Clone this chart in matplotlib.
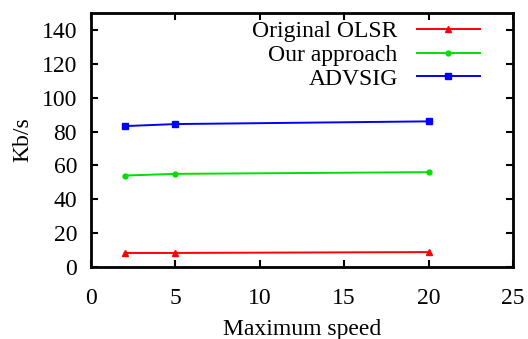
import matplotlib.pyplot as plt

# ------------------------------------------------------------------
# Data
# ------------------------------------------------------------------

speeds = [2, 5, 20]

olsr = [8.3, 8.3, 8.8]
ours = [54.0, 55.0, 56.0]
advsig = [83.2, 84.4, 86.0]

x_ticks = [0, 5, 10, 15, 20, 25]
y_ticks = [0, 20, 40, 60, 80, 100, 120, 140]

plt.rcParams["font.family"] = ["Liberation Serif", "DejaVu Serif"]

fig = plt.figure(figsize=(5.28, 3.39), dpi=100)
ax = fig.add_axes([0.1723, 0.2124, 0.7993, 0.7493])

ax.plot(speeds, olsr, color="#ff0000", marker="^", markersize=5,
        linewidth=1.4, label="Original OLSR")
ax.plot(speeds, ours, color="#00e000", marker="o", markersize=3.5,
        linewidth=1.4, label="Our approach")
ax.plot(speeds, advsig, color="#0000ff", marker="s", markersize=4,
        linewidth=1.4, label="ADVSIG")

ax.set_xlim(0, 25)
ax.set_ylim(0, 150)
ax.set_xticks(x_ticks)
ax.set_yticks(y_ticks)

ax.tick_params(direction="in", top=True, right=True, length=5, width=1.5,
               labelsize=17)
ax.tick_params(axis="x", pad=15)
ax.tick_params(axis="y", pad=10)
for spine in ax.spines.values():
    spine.set_linewidth(2)

ax.set_xlabel("Maximum speed", fontsize=17, labelpad=7)
ax.set_ylabel("Kb/s", fontsize=17, labelpad=6)

ax.legend(loc="upper right", frameon=False, markerfirst=False, fontsize=17,
          handlelength=2.7, labelspacing=0.1, borderaxespad=0.0,
          handletextpad=0.8, bbox_to_anchor=(0.945, 1.008))

fig.savefig("out.png", dpi=100)
